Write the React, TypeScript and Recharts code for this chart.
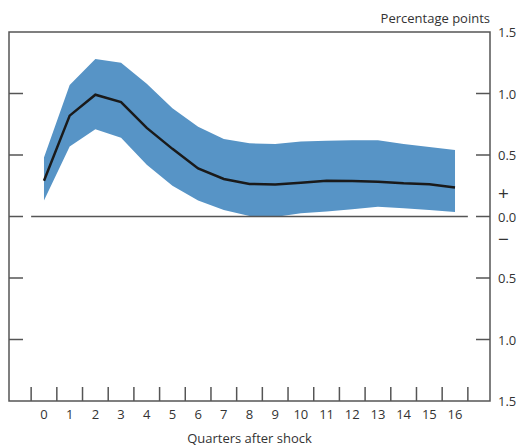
import React from 'react';
import { ComposedChart, Area, Line, XAxis, YAxis, ReferenceArea, ReferenceLine, Label } from 'recharts';

// Impulse response: median path with confidence band, quarters 0..16
const quarters = [0, 1, 2, 3, 4, 5, 6, 7, 8, 9, 10, 11, 12, 13, 14, 15, 16];
const median = [0.29, 0.82, 0.99, 0.93, 0.72, 0.55, 0.39, 0.305, 0.265, 0.26, 0.275, 0.29, 0.288, 0.283, 0.27, 0.262, 0.235];
const upper = [0.48, 1.07, 1.28, 1.25, 1.08, 0.88, 0.73, 0.63, 0.595, 0.59, 0.61, 0.615, 0.62, 0.62, 0.59, 0.565, 0.54];
const lower = [0.13, 0.57, 0.71, 0.64, 0.42, 0.25, 0.13, 0.053, 0.005, -0.005, 0.026, 0.04, 0.058, 0.08, 0.067, 0.053, 0.037];

const xBoundaries = [-0.5, 0.5, 1.5, 2.5, 3.5, 4.5, 5.5, 6.5, 7.5, 8.5, 9.5, 10.5, 11.5, 12.5, 13.5, 14.5, 15.5, 16.5];
const yTicks = [-1.5, -1, -0.5, 0, 0.5, 1, 1.5];

const data = quarters.map((q, i) => ({
  q,
  mid: median[i],
  band: [lower[i], upper[i]],
}));

const W = 520;
const H = 446;
const PLOT_LEFT = 9;
const PLOT_TOP = 32;
const PLOT_RIGHT = 490;
const PLOT_BOTTOM = 401;
const X_DOMAIN: [number, number] = [-1.362, 17.362];
const HALF_BAND = ((PLOT_RIGHT - PLOT_LEFT) / (X_DOMAIN[1] - X_DOMAIN[0])) / 2;
const TICK_LEN = 14;

const AXIS = '#555555';
const TEXT = '#333333';
const FONT = '"Open Sans", "DejaVu Sans", sans-serif';

const XTick = (props: any) => {
  const { x, y, payload } = props;
  const v = payload.value as number;
  return (
    <g>
      <line x1={x} x2={x} y1={y} y2={y - TICK_LEN} stroke={AXIS} strokeWidth={1.5} />
      {v < 16 && (
        <text x={x + HALF_BAND} y={y + 18} textAnchor="middle" fontSize={13} fill={TEXT} fontFamily={FONT}>
          {v + 0.5}
        </text>
      )}
    </g>
  );
};

const YTick = (props: any) => {
  const { x, y, payload } = props;
  const v = payload.value as number;
  const edge = Math.abs(v) === 1.5;
  return (
    <g>
      {!edge && (
        <>
          <line x1={x - TICK_LEN} x2={x} y1={y} y2={y} stroke={AXIS} strokeWidth={1.5} />
          <line x1={PLOT_LEFT} x2={PLOT_LEFT + TICK_LEN} y1={y} y2={y} stroke={AXIS} strokeWidth={1.5} />
        </>
      )}
      <text x={x + 8} y={y + 5} fontSize={13} fill={TEXT} fontFamily={FONT}>
        {Math.abs(v).toFixed(1)}
      </text>
      {v === 0 && (
        <>
          <text x={x + 8} y={y - 17} fontSize={19} fill={TEXT} fontFamily={FONT}>+</text>
          <text x={x + 8} y={y + 29} fontSize={19} fill={TEXT} fontFamily={FONT}>−</text>
        </>
      )}
    </g>
  );
};

export default function App() {
  return (
    <div style={{ position: 'absolute', left: 0, top: 0, width: W, height: H, background: '#fff', fontFamily: FONT }}>
      <div style={{ position: 'absolute', right: W - PLOT_RIGHT, top: 9, fontSize: 13, color: TEXT }}>
        Percentage points
      </div>
      <ComposedChart
        width={W}
        height={H}
        data={data}
        margin={{ top: PLOT_TOP, right: 0, bottom: 0, left: PLOT_LEFT }}
      >
        <XAxis
          type="number"
          dataKey="q"
          domain={X_DOMAIN}
          allowDataOverflow
          ticks={xBoundaries}
          interval={0}
          axisLine={false}
          tickLine={false}
          tickSize={0}
          tickMargin={0}
          height={H - PLOT_BOTTOM}
          tick={<XTick />}
        >
          <Label
            value="Quarters after shock"
            position="insideBottom"
            offset={3}
            style={{ fontSize: 13, fill: TEXT, fontFamily: FONT }}
          />
        </XAxis>
        <YAxis
          orientation="right"
          domain={[-1.5, 1.5]}
          allowDataOverflow
          ticks={yTicks}
          interval={0}
          axisLine={false}
          tickLine={false}
          tickSize={0}
          tickMargin={0}
          width={W - PLOT_RIGHT}
          tick={<YTick />}
        />
        <ReferenceArea
          x1={X_DOMAIN[0]}
          x2={X_DOMAIN[1]}
          y1={-1.5}
          y2={1.5}
          fill="none"
          stroke={AXIS}
          strokeWidth={1.5}
          ifOverflow="visible"
        />
        <Area
          dataKey="band"
          type="linear"
          stroke="none"
          fill="#5794c6"
          fillOpacity={1}
          isAnimationActive={false}
          activeDot={false}
        />
        <ReferenceLine
          segment={[{ x: -0.5, y: 0 }, { x: 16.5, y: 0 }]}
          stroke={AXIS}
          strokeWidth={1.5}
        />
        <Line
          dataKey="mid"
          type="linear"
          stroke="#1a1a1a"
          strokeWidth={2.5}
          dot={false}
          activeDot={false}
          isAnimationActive={false}
        />
      </ComposedChart>
    </div>
  );
}
